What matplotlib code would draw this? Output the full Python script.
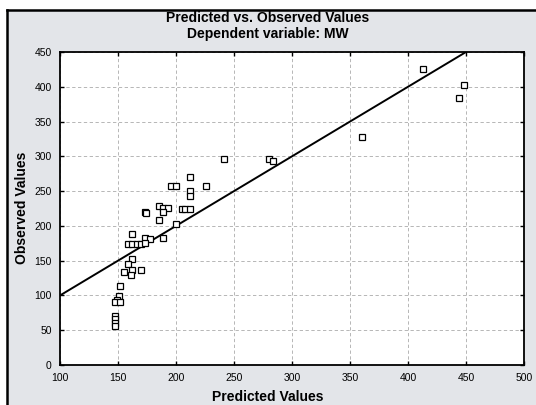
import numpy as np
import matplotlib
matplotlib.use("Agg")
from matplotlib import pyplot as plt
from matplotlib.lines import Line2D

# predicted vs observed
predicted = [413, 448, 444, 360, 280, 284, 241, 212, 196, 200, 226, 212, 212,
             173, 174, 185, 189, 193, 189, 185, 205, 208, 212, 200, 189, 162,
             159, 162, 166, 170, 173, 178, 173, 162, 159, 162, 155, 170, 161,
             152, 151, 149, 147, 152, 147, 147, 147, 147]
observed = [426, 403, 384, 328, 296, 294, 296, 271, 258, 258, 258, 250, 243,
            220, 219, 229, 226, 226, 220, 208, 224, 224, 224, 202, 183, 189,
            174, 174, 174, 174, 183, 181, 176, 152, 145, 136, 133, 136, 129,
            114, 99, 94, 90, 91, 71, 66, 61, 56]

fit_slope = 1.0
fit_intercept = 0.0
fit_range = [100, 450]

x_ticks = [100, 150, 200, 250, 300, 350, 400, 450, 500]
y_ticks = [0, 50, 100, 150, 200, 250, 300, 350, 400, 450]

bg = "#e3e5e9"
plt.rcParams['font.family'] = ['Liberation Sans', 'DejaVu Sans']

fig = plt.figure(figsize=(5.36, 4.05), dpi=100)
fig.patch.set_facecolor(bg)
fig.patch.set_linewidth(0)
# white margin strips with black top/left border
top = 1 - 10 / 405
left = 7 / 536
fig.patches.append(plt.Rectangle((0, top), 1, 1 - top, transform=fig.transFigure,
                                 facecolor="white", linewidth=0, zorder=-5))
fig.patches.append(plt.Rectangle((0, 0), left, 1, transform=fig.transFigure,
                                 facecolor="white", linewidth=0, zorder=-5))
fig.add_artist(Line2D([left, 1], [top, top], color="black", lw=1.8))
fig.add_artist(Line2D([left, left], [0, top], color="black", lw=1.8))

ax = fig.add_axes([60 / 536, 40 / 405, 464 / 536, 313 / 405])
ax.set_facecolor("white")

fx = np.array(fit_range)
ax.plot(fx, fit_intercept + fit_slope * fx, color="black", lw=1.4, zorder=3)
ax.plot(predicted, observed, linestyle="none", marker="s", markersize=4.5,
        markerfacecolor="white", markeredgecolor="black", markeredgewidth=0.9, zorder=4)

ax.set_xlim(100, 500)
ax.set_ylim(0, 450)
ax.set_xticks(x_ticks)
ax.set_yticks(y_ticks)
ax.tick_params(direction="in", length=3, width=1, labelsize=7.5, top=True, right=True,
               colors="black")
ax.tick_params(axis="x", pad=6)
ax.tick_params(axis="y", pad=6)
ax.grid(True, color="#ababab", linestyle=(0, (4, 3)), linewidth=0.6)
for s in ax.spines.values():
    s.set_linewidth(1.3)

fig.text(0.5, 1 - 18 / 405, "Predicted vs. Observed Values", ha="center", va="center",
         fontsize=10, fontweight="bold")
fig.text(0.5, 1 - 34 / 405, "Dependent variable: MW", ha="center", va="center",
         fontsize=10, fontweight="bold")
fig.text(0.5, 1 - 397 / 405, "Predicted Values", ha="center", va="center",
         fontsize=10, fontweight="bold")
fig.text(22 / 536, 1 - 208 / 405, "Observed Values", ha="center", va="center",
         fontsize=10, fontweight="bold", rotation=90)

fig.savefig("out.png", dpi=100, facecolor=fig.get_facecolor())
